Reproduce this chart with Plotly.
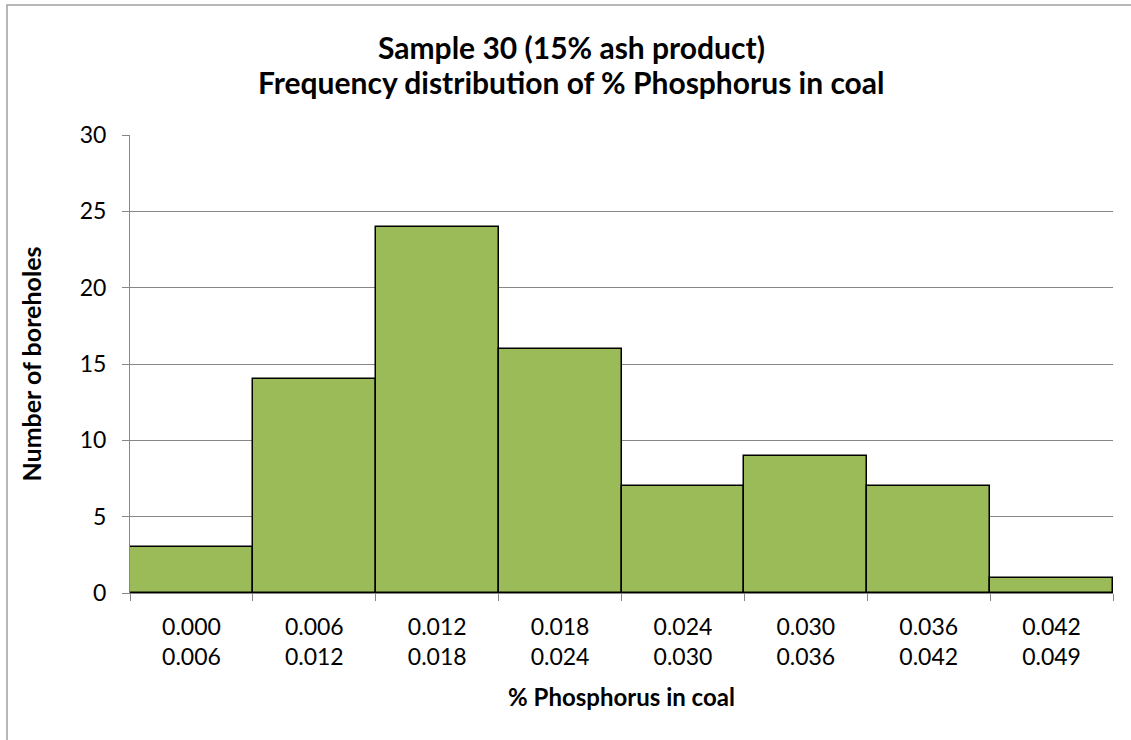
import plotly.graph_objects as go

bin_lo = ["0.000", "0.006", "0.012", "0.018", "0.024", "0.030", "0.036", "0.042"]
bin_hi = ["0.006", "0.012", "0.018", "0.024", "0.030", "0.036", "0.042", "0.049"]
counts = [3, 14, 24, 16, 7, 9, 7, 1]
categories = [f"{a}<br>{b}" for a, b in zip(bin_lo, bin_hi)]
title_lines = ["Sample 30 (15% ash product)", "Frequency distribution of % Phosphorus in coal"]

W, H = 1131, 740
L, R, T, B = 130, 18, 135, 147
pw, ph = W - L - R, H - T - B

FONT = "Lato, 'Open Sans', sans-serif"

fig = go.Figure(go.Bar(
    x=categories, y=counts,
    marker=dict(color="#9BBB59", line=dict(color="black", width=1.5)),
    width=1.0,
))

fig.update_layout(
    width=W, height=H,
    margin=dict(l=L, r=R, t=T, b=B),
    paper_bgcolor="white", plot_bgcolor="white",
    bargap=0,
    showlegend=False,
    font=dict(family=FONT, color="black", size=20),
    xaxis=dict(
        type="category", tickson="boundaries",
        ticks="outside", ticklen=7, tickcolor="#868686",
        showline=True, linecolor="#868686", linewidth=1,
        showgrid=False,
        tickfont=dict(size=23),
        ticklabelstandoff=13,
        title=dict(text="<b>% Phosphorus in coal</b>", font=dict(size=24), standoff=20),
    ),
    yaxis=dict(
        range=[0, 30], dtick=5,
        ticks="outside", ticklen=7, tickcolor="#868686",
        showline=True, linecolor="#868686", linewidth=1,
        showgrid=True, gridcolor="#868686", gridwidth=1,
        zeroline=False,
        tickfont=dict(size=23),
        ticklabelstandoff=11,
        title=dict(text="<b>Number of boreholes</b>", font=dict(size=25), standoff=30),
    ),
)

# two-line chart title (Excel-style tight line spacing)
for txt, ypx in zip(title_lines, [47, 82]):
    fig.add_annotation(
        text=f"<b>{txt}</b>", showarrow=False,
        xref="paper", yref="paper",
        x=(571 - L) / pw, y=(H - B - ypx) / ph,
        xanchor="center", yanchor="middle",
        font=dict(size=30, family=FONT, color="black"),
    )

# outer chart border (Excel chart area frame)
fig.add_shape(
    type="rect", xref="paper", yref="paper",
    x0=(7 - L) / pw, x1=(W + 20 - L) / pw,
    y0=(H - B - (H + 20)) / ph, y1=(H - B - 5) / ph,
    line=dict(color="#A0A0A0", width=1.5), fillcolor="rgba(0,0,0,0)",
    layer="below",
)

fig.write_html("out.html")
